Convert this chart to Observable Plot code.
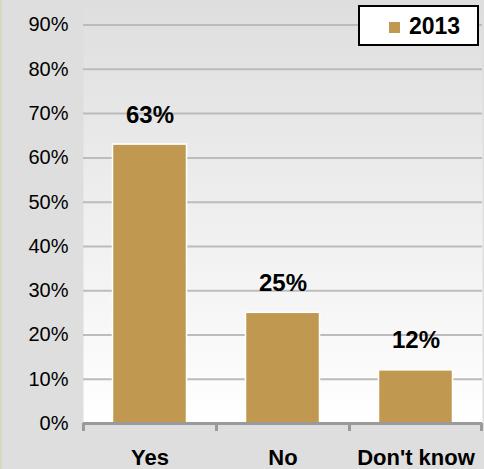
<!DOCTYPE html>
<html>
<head>
<meta charset="utf-8">
<script src="https://cdn.jsdelivr.net/npm/d3@7"></script>
<script src="https://cdn.jsdelivr.net/npm/@observablehq/plot@0.6"></script>
<style>
  html, body { margin: 0; padding: 0; background: #dedede; }
  #wrap { position: relative; width: 484px; height: 469px; overflow: hidden; background: #dedede; }
  #strip { position: absolute; left: 0; top: 0; width: 2px; height: 469px; background: #d4d9c1; }
  #legend { position: absolute; left: 358px; top: 5px; width: 117px; height: 37px; background: #fff; border: 2px solid #000;
            font-family: "Liberation Sans", Arial, sans-serif; font-weight: bold; font-size: 23px; color: #000; }
  #legend .sw { position: absolute; left: 29px; top: 15px; width: 11px; height: 11px; }
  #legend .lb { position: absolute; left: 49px; top: 4px; line-height: 30px; }
  svg { display: block; }
</style>
</head>
<body>
<div id="wrap"><div id="strip"></div></div>
<script>
const categories = ["Yes", "No", "Don't know"];
const values2013 = [0.63, 0.25, 0.12];
const seriesName = "2013";
const yTicks = [0, 0.1, 0.2, 0.3, 0.4, 0.5, 0.6, 0.7, 0.8, 0.9];

const data = categories.map((c, i) => ({category: c, value: values2013[i]}));

const W = 484, H = 469, ML = 83, MR = 2, MT = 0, MB = 46;
const step = (W - ML - MR) / categories.length;
const barColor = "#c0984f";
const font = '"Liberation Sans", Arial, sans-serif';

const gradient = () => {
  const svg = d3.create("svg:g");
  const defs = svg.append("defs");
  const lg = defs.append("linearGradient").attr("id", "pa-grad").attr("x1", 0).attr("y1", 0).attr("x2", 0).attr("y2", 1);
  lg.append("stop").attr("offset", "0%").attr("stop-color", "#dedede");
  lg.append("stop").attr("offset", "100%").attr("stop-color", "#ffffff");
  return svg.node();
};

const chart = Plot.plot({
  width: W,
  height: H,
  marginLeft: ML,
  marginRight: MR,
  marginTop: MT,
  marginBottom: MB,
  style: {background: "transparent", fontFamily: font, overflow: "visible"},
  x: {domain: categories, padding: 0, label: null},
  y: {domain: [0, 0.9555], label: null},
  marks: [
    gradient,
    Plot.frame({fill: "url(#pa-grad)", stroke: "none"}),
    Plot.gridY(yTicks.filter(d => d > 0), {stroke: "#bcbcbc", strokeOpacity: 1, strokeWidth: 2}),
    Plot.barY(data, {x: "category", y: "value", fill: barColor, stroke: "#ffffff", strokeWidth: 1.5, insetLeft: 29.5, insetRight: 29.5}),
    Plot.ruleY([0], {stroke: "#9a9a9a", strokeWidth: 3}),
    Plot.ruleX(categories, {x: d => d, y1: 0, y2: 0, dx: -step / 2, insetBottom: -8, stroke: "#9a9a9a", strokeWidth: 3}),
    Plot.ruleX([categories[categories.length - 1]], {x: d => d, y1: 0, y2: 0, dx: step / 2 - 1, insetBottom: -8, stroke: "#9a9a9a", strokeWidth: 3}),
    Plot.text(data, {x: "category", y: "value", text: d => Math.round(d.value * 100) + "%", lineAnchor: "bottom", dy: -22,
      fontSize: 24, fontWeight: "bold", fill: "#000", fontFamily: font}),
    Plot.axisY({ticks: yTicks, tickFormat: d => Math.round(d * 100) + "%", tickSize: 0, tickPadding: 15, fontSize: 20, label: null, color: "#000"}),
    Plot.axisX({tickSize: 0, tickPadding: 26, fontSize: 22, fontWeight: "bold", label: null, color: "#000"})
  ]
});

const wrap = document.getElementById("wrap");
wrap.appendChild(chart);
const leg = document.createElement("div");
leg.id = "legend";
leg.innerHTML = `<div class="sw" style="background:${barColor}"></div><div class="lb">${seriesName}</div>`;
wrap.appendChild(leg);
</script>
</body>
</html>
